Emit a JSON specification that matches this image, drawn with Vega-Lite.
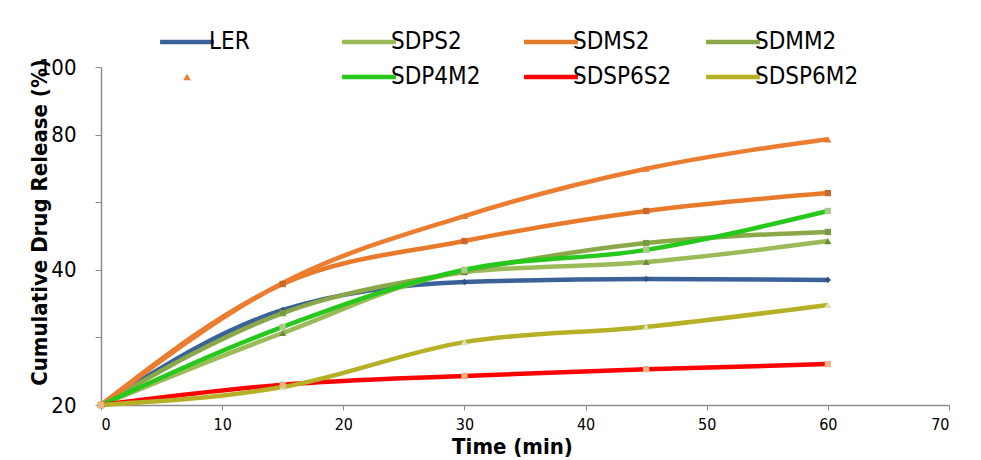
{
  "$schema": "https://vega.github.io/schema/vega-lite/v6.json",
  "width": 848,
  "height": 338,
  "autosize": "none",
  "padding": {"left": 101, "top": 67, "right": 32, "bottom": 55},
  "background": "white",
  "config": {"font": "DejaVu Sans Condensed, Liberation Sans, sans-serif", "view": {"stroke": null}},
  "data": {"values": [
    {"series": "LER", "t": 0, "v": 0}, {"series": "LER", "t": 15, "v": 28.1}, {"series": "LER", "t": 30, "v": 36.4}, {"series": "LER", "t": 45, "v": 37.3}, {"series": "LER", "t": 60, "v": 37.0},
    {"series": "SDPS2", "t": 0, "v": 0}, {"series": "SDPS2", "t": 15, "v": 21.3}, {"series": "SDPS2", "t": 30, "v": 39.3}, {"series": "SDPS2", "t": 45, "v": 42.3}, {"series": "SDPS2", "t": 60, "v": 48.5},
    {"series": "SDMS2", "t": 0, "v": 0}, {"series": "SDMS2", "t": 15, "v": 35.8}, {"series": "SDMS2", "t": 30, "v": 48.5}, {"series": "SDMS2", "t": 45, "v": 57.4}, {"series": "SDMS2", "t": 60, "v": 62.7},
    {"series": "SDMM2", "t": 0, "v": 0}, {"series": "SDMM2", "t": 15, "v": 27.2}, {"series": "SDMM2", "t": 30, "v": 39.6}, {"series": "SDMM2", "t": 45, "v": 47.9}, {"series": "SDMM2", "t": 60, "v": 51.2},
    {"series": " ", "t": 0, "v": 0}, {"series": " ", "t": 15, "v": 36.1}, {"series": " ", "t": 30, "v": 55.9}, {"series": " ", "t": 45, "v": 69.9}, {"series": " ", "t": 60, "v": 78.6},
    {"series": "SDP4M2", "t": 0, "v": 0}, {"series": "SDP4M2", "t": 15, "v": 23.1}, {"series": "SDP4M2", "t": 30, "v": 40.0}, {"series": "SDP4M2", "t": 45, "v": 45.9}, {"series": "SDP4M2", "t": 60, "v": 57.4},
    {"series": "SDSP6S2", "t": 0, "v": 0}, {"series": "SDSP6S2", "t": 15, "v": 6.0}, {"series": "SDSP6S2", "t": 30, "v": 8.6}, {"series": "SDSP6S2", "t": 45, "v": 10.6}, {"series": "SDSP6S2", "t": 60, "v": 12.1},
    {"series": "SDSP6M2", "t": 0, "v": 0}, {"series": "SDSP6M2", "t": 15, "v": 5.3}, {"series": "SDSP6M2", "t": 30, "v": 18.6}, {"series": "SDSP6M2", "t": 45, "v": 23.1}, {"series": "SDSP6M2", "t": 60, "v": 29.6}
  ]},
  "encoding": {
    "x": {"field": "t", "type": "quantitative",
      "scale": {"domain": [0, 70], "nice": false},
      "axis": {"values": [0, 10, 20, 30, 40, 50, 60, 70], "grid": false, "domainColor": "#8c8c8c", "domainWidth": 1.5,
        "tickColor": "#8c8c8c", "tickSize": 5, "labelFontSize": 16, "labelColor": "#000", "labelPadding": 6,
        "title": "Time (min)", "titleFontSize": 22, "titleFontWeight": "bold", "titleColor": "#000",
        "titleX": 411, "titleY": 31}},
    "y": {"field": "v", "type": "quantitative",
      "scale": {"domain": [0, 100], "nice": false},
      "axis": {"values": [0, 20, 40, 60, 80, 100], "grid": false, "domainColor": "#8c8c8c", "domainWidth": 1.5,
        "tickColor": "#8c8c8c", "tickSize": 6, "labelFontSize": 22, "labelColor": "#000", "labelPadding": 19,
        "labelExpr": "datum.value == 0 ? '20' : (datum.value == 20 || datum.value == 60) ? '' : datum.label",
        "title": "Cumulative Drug Release (%)", "titleFontSize": 22, "titleFontWeight": "bold", "titleColor": "#000",
        "titleX": -50, "titleY": 155}}
  },
  "layer": [
    {
      "mark": {"type": "line", "interpolate": "monotone", "strokeWidth": 4.5},
      "encoding": {
        "color": {"field": "series", "type": "nominal",
          "scale": {
            "domain": ["LER", "SDPS2", "SDMS2", "SDMM2", " ", "SDP4M2", "SDSP6S2", "SDSP6M2"],
            "range": ["#3b6199", "#9bbb59", "#e87b2b", "#8aa84a", "#ec7d30", "#27c81c", "#ff0000", "#b6b027"]},
          "legend": {
            "orient": "none", "legendX": 74, "legendY": -37, "direction": "horizontal", "columns": 4,
            "gridAlign": "all", "columnPadding": 20, "rowPadding": 11, "title": null,
            "symbolType": "stroke", "symbolSize": 2900, "symbolStrokeWidth": 4.5, "symbolOffset": 0,
            "labelFontSize": 24, "labelColor": "#000", "labelOffset": 10, "labelLimit": 300,
            "encode": {"symbols": {"update": {
              "shape": {"signal": "datum.value === ' ' ? 'triangle-up' : 'stroke'"},
              "size": {"signal": "datum.value === ' ' ? 60 : 2900"},
              "fill": {"signal": "datum.value === ' ' ? '#ec7d30' : 'transparent'"},
              "strokeWidth": {"signal": "datum.value === ' ' ? 0 : 4.5"}
            }}}
          }}
      }
    },
    {
      "transform": [{"filter": {"field": "series", "oneOf": ["LER"]}}],
      "mark": {"type": "point", "shape": "diamond", "filled": true, "size": 40, "opacity": 1, "color": "#2f5287"},
      "encoding": {}
    },
    {
      "transform": [{"filter": {"field": "series", "oneOf": ["SDPS2", " ", "SDSP6M2"]}}],
      "mark": {"type": "point", "shape": "triangle-up", "filled": true, "size": 50, "opacity": 1},
      "encoding": {
        "fill": {"field": "series", "type": "nominal", "legend": null,
          "scale": {"domain": ["SDPS2", " ", "SDSP6M2", "SDMS2", "SDMM2", "SDP4M2", "SDSP6S2"],
            "range": ["#6f8a38", "#e8782c", "#d7e4bd", "#c8682a", "#7d9a40", "#a9cb8c", "#f4b183"]}}
      }
    },
    {
      "transform": [{"filter": {"field": "series", "oneOf": ["SDMS2", "SDMM2", "SDP4M2", "SDSP6S2"]}}],
      "mark": {"type": "point", "shape": "square", "filled": true, "size": 40, "opacity": 1},
      "encoding": {
        "fill": {"field": "series", "type": "nominal", "legend": null}
      }
    }
  ]
}
